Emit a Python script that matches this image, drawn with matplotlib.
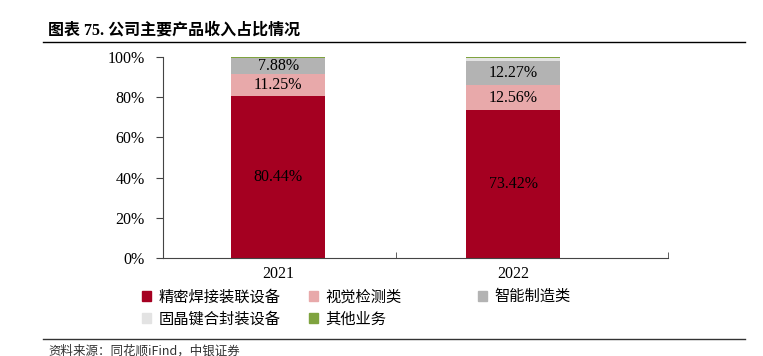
import matplotlib
matplotlib.use("Agg")
import matplotlib.pyplot as plt
import matplotlib.patches as patches
from matplotlib.lines import Line2D
import numpy as np

plt.rcParams['font.family'] = ['Liberation Serif', 'Noto Sans CJK SC']

# data
years = ["2021", "2022"]
series_names = ["精密焊接装联设备", "视觉检测类", "智能制造类", "固晶键合封装设备", "其他业务"]
welding = [80.44, 73.42]
vision = [11.25, 12.56]
smart = [7.88, 12.27]
die_bond = [0.10, 1.30]
other = [0.33, 0.45]
colors = ["#A50021", "#E8A9AA", "#B3B3B3", "#E3E3E3", "#7FA33F"]

series = [welding, vision, smart, die_bond, other]
show_label = [True, True, True, False, False]

fig = plt.figure(figsize=(7.63, 3.56), dpi=100)
ax = fig.add_axes([0.2136, 0.2753, 0.662, 0.5646])

x = np.arange(len(years))
bottom = np.zeros(len(years))
for vals, name, col, lab in zip(series, series_names, colors, show_label):
    vals = np.array(vals)
    ax.bar(x, vals, width=0.4, bottom=bottom, color=col, label=name, linewidth=0)
    if lab:
        for xi, b, v in zip(x, bottom, vals):
            ax.text(xi, b + v / 2, f"{v:.2f}%", ha="center", va="center",
                    fontsize=11.5, color="black")
    bottom += vals

ax.set_ylim(0, 100)
ax.set_xlim(-0.49, 1.66)
ax.set_yticks(range(0, 101, 20))
ax.set_yticklabels([f"{v}%" for v in range(0, 101, 20)], fontsize=11.5)
ax.set_xticks(x)
ax.set_xticklabels(years, fontsize=11.5)
ax.tick_params(axis="x", length=0, pad=6)
ax.set_xticks([0.5, 1.66], minor=True)
ax.tick_params(axis="x", which="minor", length=4, direction="in", color="#444444")
ax.tick_params(axis="y", length=5, direction="out", color="#444444", pad=8)
for s in ["top", "right"]:
    ax.spines[s].set_visible(False)
ax.spines["left"].set_color("#444444")
ax.spines["bottom"].set_color("#444444")

# legend: fixed-width columns, row-major like the source
handles = [patches.Patch(color=c) for c in colors]
columns = [[0, 3], [1, 4], [2]]
col_x = [0.168, 0.3866, 0.608]
for idx, cx in zip(columns, col_x):
    fig.legend([handles[i] for i in idx], [series_names[i] for i in idx],
               ncol=1, loc="upper left", bbox_to_anchor=(cx, 0.229),
               frameon=False, handlelength=0.6, handleheight=0.6,
               handletextpad=0.5, labelspacing=0.35,
               prop={"family": ["Noto Sans CJK SC"], "size": 11})

# title and rules
fig.text(0.063, 0.915, "图表 75. 公司主要产品收入占比情况", fontsize=11.5, fontweight="bold",
         family=["Liberation Serif", "Noto Sans CJK SC"], va="center")
fig.add_artist(Line2D([0.057, 0.977], [0.882, 0.882], color="black", lw=1.0))
fig.add_artist(Line2D([0.057, 0.977], [0.048, 0.048], color="#333333", lw=1.0))
fig.text(0.063, 0.015, "资料来源：同花顺iFind，中银证券", fontsize=9, style="italic",
         color="#333333", family=["Noto Sans CJK SC", "Liberation Serif"], va="center")

fig.savefig("out.png", dpi=100)
